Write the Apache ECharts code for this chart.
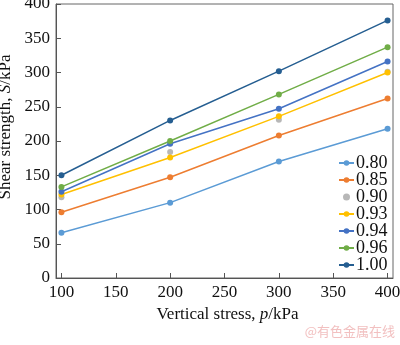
<!DOCTYPE html>
<html><head><meta charset="utf-8">
<script src="https://cdn.jsdelivr.net/npm/echarts@6/dist/echarts.min.js"></script>
<style>html,body{margin:0;padding:0;background:#fff}#c{width:400px;height:345px}</style>
</head><body><div id="c"></div>
<script>
const stresses = [100, 200, 300, 400];
const seriesNames = ['0.80','0.85','0.90','0.93','0.94','0.96','1.00'];
const s080 = [66, 110, 170, 218];
const s085 = [96, 147, 208, 262];
const s090 = [118, 184, 231, 301];
const s093 = [122, 176, 236, 300];
const s094 = [126, 196, 247, 316];
const s096 = [133, 200, 268, 337];
const s100 = [150, 230, 302, 376];
const xTicks = [100, 150, 200, 250, 300, 350, 400];
const colors = ['#5B9BD5','#ED7D31','#A5A5A5','#FFC000','#4472C4','#70AD47','#255E91'];
const values = [s080, s085, s090, s093, s094, s096, s100];

const font = 'Liberation Serif, Times New Roman, serif';
const series = seriesNames.map((n, i) => ({
  name: n,
  type: i === 2 ? 'scatter' : 'line',
  data: stresses.map((x, j) => [x, values[i][j]]),
  symbol: 'circle',
  symbolSize: 6,
  itemStyle: {color: colors[i]},
  lineStyle: {color: colors[i], width: 1.5},
  z: i === 2 ? 1 : 2
}));

const chart = echarts.init(document.getElementById('c'));
chart.setOption({
  animation: false,
  grid: {left: 56, right: 7, top: 4, bottom: 67, containLabel: false, outerBoundsMode: 'none', show: true, borderColor: '#666', borderWidth: 1},
  legend: {
    data: seriesNames.map(n => ({name: n, icon: n === '0.90' ? 'circle' : undefined})),
    orient: 'vertical', left: 333, top: 149,
    itemGap: -1, itemWidth: 15, itemHeight: 7,
    textStyle: {fontFamily: font, fontSize: 18, color: '#111', padding: [0,0,0,-3]}
  },
  xAxis: {
    type: 'value', min: 95, max: 405,
    axisLine: {lineStyle: {color: '#555'}},
    axisTick: {inside: true, length: 5, customValues: xTicks, lineStyle: {color: '#555'}},
    axisLabel: {customValues: xTicks, fontFamily: font, fontSize: 17, color: '#111', margin: 6},
    splitLine: {show: false},
    name: '{a|Vertical stress, }{b|p}{a|/kPa}',
    nameLocation: 'middle', nameGap: 27,
    nameTextStyle: {padding: [0,0,0,6], rich: {a: {fontFamily: font, fontSize: 17, color: '#111'}, b: {fontFamily: font, fontSize: 17, fontStyle: 'italic', color: '#111'}}}
  },
  yAxis: {
    type: 'value', min: 0, max: 400, interval: 50,
    axisLine: {show: true, lineStyle: {color: '#555'}},
    axisTick: {show: true, inside: true, length: 5, lineStyle: {color: '#555'}},
    axisLabel: {fontFamily: font, fontSize: 17, color: '#111', margin: 6},
    splitLine: {show: false},
    name: '{a|Shear strength, }{b|S}{a|/kPa}',
    nameLocation: 'middle', nameGap: 40,
    nameTextStyle: {padding: [0,0,0,28], rich: {a: {fontFamily: font, fontSize: 17, color: '#111'}, b: {fontFamily: font, fontSize: 17, fontStyle: 'italic', color: '#111'}}}
  },
  graphic: [{
    type: 'text', right: 5, top: 325,
    style: {text: '@有色金属在线', fontFamily: 'Noto Sans CJK SC', fontSize: 13, fill: '#f2c0c0'}
  }],
  series: series
});
</script></body></html>
